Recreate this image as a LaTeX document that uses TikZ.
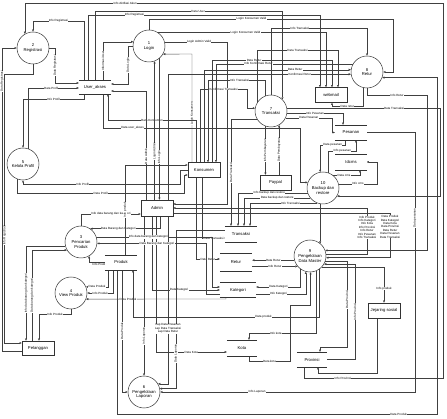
\documentclass[tikz,border=0pt]{standalone}
\usepackage{fontspec}
\setmainfont{Liberation Sans}
\usetikzlibrary{arrows.meta}
\pgfdeclarelayer{edges}
\pgfsetlayers{edges,main}
\begin{document}
\begin{tikzpicture}[x=1pt,y=-1pt,
  font=\fontsize{4.2}{4.6}\selectfont,
  proc/.style={circle,draw=black!80,line width=0.5pt,minimum size=32pt,inner sep=0pt,align=center,fill=white},
  ent/.style={rectangle,draw=black!80,line width=0.5pt,minimum width=32pt,minimum height=15pt,inner sep=0pt,fill=white},
  store/.style={rectangle,minimum width=32pt,minimum height=15pt,inner sep=0pt,fill=white},
  fl/.style={draw=black!75,line width=0.4pt,-{Triangle[length=2.2pt,width=2pt]}},
  ln/.style={draw=black!80,line width=0.5pt},
  lbl/.style={font=\fontsize{3}{3.4}\selectfont,fill=white,inner sep=0.3pt,align=center},
  lblv/.style={lbl,rotate=90},
]
\useasboundingbox (0,0) rectangle (447,419);

% processes
\node[proc] (p2) at (33,48) {2\\Registrasi};
\node[proc] (p1) at (149,46) {1\\Login};
\node[proc] (p8) at (367,72) {8\\Retur};
\node[proc] (p7) at (271,111) {7\\Transaksi};
\node[proc] (p5) at (23,164) {5\\Kelola Profil};
\node[proc] (p10) at (323,188) {10\\Backup dan\\restore};
\node[proc] (p3) at (81,242) {3\\Pencarian\\Produk};
\node[proc] (p9) at (310,256) {9\\Pengelolaan\\Data Master};
\node[proc] (p4) at (71,293) {4\\View Produk};
\node[proc] (p6) at (144,392) {6\\Pengelolaan\\Laporan};

% external entities
\node[ent] (webmail) at (331,95) {webmail};
\node[ent] (konsumen) at (204,170) {Konsumen};
\node[ent,minimum width=31pt] (paypal) at (275.5,182.5) {Paypal};
\node[ent,minimum height=16pt] (admin) at (157,208) {Admin};
\node[ent,minimum height=14pt] (pelanggan) at (38,348) {Pelanggan};
\node[ent] (jejaring) at (384,310.5) {Jejaring sosial};

% data stores
\node[store,minimum height=14pt] (ua) at (95,87) {User\_akses};
\node[store] (pesanan) at (351,132.5) {Pesanan};
\node[store,minimum width=31pt,minimum height=16pt] (idcms) at (351,162) {Idcms};
\node[store,minimum height=16pt] (strans) at (241,234) {Transaksi};
\node[store,minimum height=18pt] (sretur) at (236,262) {Retur};
\node[store,minimum width=36pt] (skat) at (238,290) {Kategori};
\node[store,minimum width=30pt,minimum height=16pt] (skota) at (242,348) {Kota};
\node[store,minimum width=30pt] (sprov) at (312,359.5) {Provinsi};
\node[store] (sprod) at (121,262.5) {Produk};
\foreach \s in {ua,pesanan,idcms,strans,sretur,skat,skota,sprov,sprod}
  \draw[ln] (\s.north west) -- (\s.north east) (\s.south west) -- (\s.south east);

\begin{pgfonlayer}{edges}
% Registrasi
\draw[fl] (sprov.south -| 304,0) -- (304,378) -- (443,378) node[lbl,pos=0.28]{Info Provinsi}
  -- (443,3) -- (p2.120 |- 0,3) node[lbl,pos=0.76]{Info Aktifasi Akun} -- (p2.120);
\draw[fl] (ua.north -| 84,0) -- (84,21) -- (p2.north |- 0,21) node[lbl,pos=0.5]{Info Registrasi} -- (p2.north);
\draw[fl] (p2.east) -- (55,48) -- (55,83) node[lblv,pos=0.5]{Data Registrasi} -- (ua.west |- 0,83);
\draw[fl] (pelanggan.west |- 0,351) -- (2,351) -- (2,48) node[lblv,pos=0.89]{Data Registrasi} -- (p2.west);
\draw[fl] (p2.south) -- (33,74) -- (4.5,74) -- (4.5,343) node[lblv,pos=0.6]{Info Registrasi} -- (pelanggan.west |- 0,343);
\draw[fl] (p5.70) -- (p5.70 |- 0,88) -- (ua.west |- 0,88) node[lbl,pos=0.45]{Data Profil};
\draw[fl] (ua.south -| 84,0) -- (84,99) -- (p5.north |- 0,99) node[lbl,pos=0.5]{Info Profil} -- (p5.north);
\draw[fl] (konsumen.west |- 0,170) -- (180,170) -- (180,184) -- (p5.south |- 0,184) node[lbl,pos=0.62]{Info Profil} -- (p5.south);
\draw[fl] (p5.250) -- (p5.250 |- 0,193) -- (184,193) node[lbl,pos=0.5]{Data Profil} -- (184,175) -- (konsumen.west |- 0,175);

% Login
\draw[fl] (p1.north) -- (149,19) -- (393,19) node[lbl,pos=0.42]{Login Konsumen Valid} -- (393,72) -- (p8.east);
\draw[fl] (p1.55) -- (p1.55 -| 326,0) node[lbl,pos=0.52]{Login Konsumen Valid} -- (webmail.north -| 326,0);
\draw[fl] (p1.14) -- (p1.14 -| 227,0) node[lbl,pos=0.55]{Login Admin Valid} -- (227,204) -- (admin.east |- 0,204);
\draw[fl] (ua.north -| 103,0) -- (p1.165 -| 103,0) node[lblv,pos=0.5]{Informasi User} -- (p1.165);
\draw[fl] (p1.west) -- (128,46) -- (128,84) node[lblv,pos=0.5]{Data Login} -- (ua.east |- 0,84);
\draw[fl] (ua.north) -- (95,11) -- (p7.north east |- 0,11) node[lbl,pos=0.55]{Data User} -- (p7.north east);
\draw[fl] (ua.north -| 88,0) -- (88,15) -- (320,15) node[lbl,pos=0.2]{Info Registrasi} -- (webmail.north -| 320,0);

% Konsumen
\draw[fl] (konsumen.north -| 192,0) -- (192,54) node[lblv,pos=0.45]{Login Konsumen} -- (p1.-30);
\draw[fl] (konsumen.north -| 196,0) -- (196,120) -- (108,120) node[lbl,pos=0.5]{Data Konsumen} -- (ua.south -| 108,0);
\draw[fl] (konsumen.north -| 200,0) -- (200,89) -- (247,89) node[lbl,pos=0.5]{Konfirmasi Transaksi} -- (p7.170 -| 247,0) -- (p7.170);
\draw[fl] (konsumen.north -| 204,0) -- (p8.172 -| 204,0) -- (p8.172) node[lbl,pos=0.62]{Data Retur};
\draw[fl] (p7.110) -- (p7.110 |- 0,80) -- (208,80) node[lbl,pos=0.45]{Info Transaksi} -- (konsumen.north -| 208,0);
\draw[fl] (konsumen.north -| 212,0) -- (212,60) -- (332,60) node[lbl,pos=0.35]{Data Retur} -- (webmail.north -| 332,0);
\draw[fl] (p8.150) -- (p8.150 -| 216,0) node[lbl,pos=0.69]{Info Konfirmasi Retur} -- (konsumen.north -| 216,0);
\draw[fl] (konsumen.south -| 196,0) -- (196,259) -- (sretur.west |- 0,259) node[lbl,pos=0.5]{Data Retur};
\draw[fl] (konsumen.south -| 202,0) -- (202,238) -- (strans.west |- 0,238) node[lbl,pos=0.5]{Data Transaksi};

% Admin
\draw[fl] (admin.north -| 146,0) -- (146,91) node[lblv,pos=0.4]{Data Admin} -- (ua.east |- 0,91);
\draw[fl] (admin.north -| p1.-70) -- (p1.-70) node[lblv,pos=0.35]{Login Admin};
\draw[fl] (p1.-50) -- (p1.-50 |- admin.north) node[lblv,pos=0.7]{Info Login};
\draw[fl] (admin.north -| 168,0) -- (p8.-172 -| 168,0) -- (p8.-172) node[lbl,pos=0.72]{Konfirmasi Retur};
\draw[fl] (admin.south -| 160,0) -- (p3.55 -| 160,0) -- (p3.55) node[lbl,pos=0.6]{Data Barang dan Kategori};
\draw[fl] (p3.north) -- (81,214) -- (admin.west |- 0,214) node[lbl,pos=0.5]{Info data barang dan kategori};
\draw[fl] (admin.south -| 152,0) -- (152,290) -- (skat.west |- 0,290) node[lbl,pos=0.4]{Data Kategori};
\draw[fl] (admin.south -| 156,0) -- (156,352) -- (skota.west |- 0,352) node[lbl,pos=0.5]{Data Kota};
\draw[fl] (admin.south -| 144,0) -- (p6.north) node[lblv,pos=0.75]{Info Laporan};
\draw[fl] (strans.west |- 0,230) -- (176,230) -- (p6.12 -| 176,0) node[lblv,pos=0.78]{Data Laporan} -- (p6.12);
\draw[fl] (admin.south -| 168,0) -- (p6.30 -| 168,0) node[lbl,pos=0.67]{Lap Data Pesanan\\Lap Data Transaksi\\Lap Data Retur} -- (p6.30);

% Pencarian Produk
\draw[fl] (p3.18) -- (p3.18 -| 212,0) node[lbl,pos=0.45]{Info data barang dan kategori} -- (212,287) -- (skat.west |- 0,287);
\draw[fl] (skat.west |- 0,294) -- (206,294) -- (p3.-5 -| 206,0) -- (p3.-5) node[lbl,pos=0.45]{Data Barang dan Kategori};
\draw[fl] (p3.194) -- (p3.194 -| 26,0) -- (pelanggan.north -| 26,0) node[lblv,pos=0.5]{Info data barang dan kategori};
\draw[fl] (pelanggan.north -| 32,0) -- (p3.210 -| 32,0) node[lblv,pos=0.5]{Data barang dan kategori} -- (p3.210);
\draw[fl] (sprod.west) -- (p3.-60 |- sprod.west) node[lbl,pos=0.3,below=0.4pt]{Info Produk} -- (p3.-60);

% View Produk
\draw[fl] (sprod.south -| 108,0) -- (p4.22 -| 108,0) -- (p4.22) node[lbl,pos=0.5]{Data Produk};
\draw[fl] (sprod.south -| 113,0) -- (p4.east -| 113,0) -- (p4.east) node[lbl,pos=0.5]{Info Produk};
\draw[fl] (skat.south -| 226,0) -- (226,299) -- (p4.-22) node[lbl,pos=0.7]{Data Produk};
\draw[fl] (p4.south) -- (71,314) -- (39,314) node[lbl,pos=0.5]{Info Produk} -- (pelanggan.north -| 39,0);

% Produk
\draw[fl] (sprod.south -| 117,0) -- (117,414) -- (437,414) node[lbl,pos=0.88]{Data Produk} -- (p8.-20 -| 437,0) -- (p8.-20);
\draw[fl] (sprod.south -| 122,0) -- (p6.west -| 122,0) node[lblv,pos=0.5]{Data Produk} -- (p6.west);
\draw[fl] (sprod.north -| 125,0) -- (125,165) node[lblv,pos=0.5]{Info produk} -- (konsumen.west |- 0,165);
\draw[fl] (p9.-55) -- (p9.-55 |- 0,317) -- (133,317) node[lbl,pos=0.3]{Data produk} -- (sprod.south -| 133,0);

% Transaksi
\draw[fl] (p7.north) -- (271,28) -- (367,28) node[lbl,pos=0.3]{Info Transaksi} -- (p8.north);
\draw[fl] (p7.150) -- (p7.150 |- 0,50) -- (338,50) node[lbl,pos=0.5]{Data Transaksi} -- (webmail.north -| 338,0);
\draw[fl] (p7.-7) -- (p7.-7 -| 343,0) node[lbl,pos=0.5]{Info Pesanan} -- (pesanan.north -| 343,0);
\draw[fl] (p7.-25) -- (p7.-25 -| 332,0) node[lbl,pos=0.5]{Data Pesanan} -- (332,132.5) -- (pesanan.west);
\draw[fl] (p7.10) -- (p7.10 -| 440,0) node[lbl,pos=0.7]{Data Transaksi} -- (p10.-30 -| 440,0) -- (p10.-30);
\draw[fl] (p7.-150) -- (p7.-150 -| 231,0) -- (strans.north -| 231,0) node[lblv,pos=0.5]{Data Transaksi};
\draw[fl] (p7.-110) -- (paypal.north -| p7.-110) node[lblv,pos=0.5]{Info Pembayaran};
\draw[fl] (paypal.north -| p7.-60) -- (p7.-60) node[lblv,pos=0.5]{Data Pembayaran};

% Retur
\draw[fl] (p8.south) -- (367,95) -- (427,95) node[lbl,pos=0.5]{Info Retur} -- (p9.20 -| 427,0) -- (p9.20);
\draw[fl] (p8.-105) -- (p8.-105 |- 0,106) -- (332,106) node[lbl,pos=0.5]{Data retur} -- (webmail.south -| 332,0);

% Backup dan restore
\draw[fl] (ua.south -| 103,0) -- (103,128) -- (300,128) node[lbl,pos=0.15]{Data user\_akses} -- (p10.160 -| 300,0) -- (p10.160);
\draw[fl] (p10.-162) -- (p10.-162 -| 238,0) node[lbl,pos=0.55]{Info backup dan restore} -- (strans.north -| 238,0);
\draw[fl] (p10.-141) -- (p10.-141 -| 244,0) node[lbl,pos=0.5]{Data backup dan restore} -- (strans.north -| 244,0);
\draw[fl] (p10.-110) -- (p10.-110 -| 250,0) node[lbl,pos=0.4]{Info Transaksi} -- (strans.north -| 250,0);
\draw[fl] (pesanan.south -| 345,0) -- (345,145) -- (p10.100 |- 0,145) node[lbl,pos=0.5]{Data pesanan} -- (p10.100);
\draw[fl] (p10.70) -- (p10.70 |- 0,151) -- (356,151) node[lbl,pos=0.5]{Info pesanan} -- (pesanan.south -| 356,0);
\draw[fl] (p10.50) -- (p10.50 -| 360,0) node[lbl,pos=0.4]{Data cms} -- (idcms.south -| 360,0);
\draw[fl] (p10.15) -- (p10.15 -| 377,0) node[lbl,pos=0.5]{Info cms} -- (377,162) -- (idcms.east);
\draw[fl] (p10.-100) -- (p10.-100 |- p9.50);

% Pengelolaan Data Master
\draw[fl] (p9.8) -- (p9.8 -| 367,0) -- (367,208)
  node[lbl,pos=0.58]{Info Produk\\Info Kategori\\Info Kota\\Info Provinsi\\Info Retur\\Info Pesanan\\Info Transaksi}
  -- (admin.east |- 0,208);
\draw[fl] (admin.east |- 0,213) -- (390,213) -- (p9.-6 -| 390,0)
  node[lbl,pos=0.31]{Data Produk\\Data Kategori\\Data Kota\\Data Provinsi\\Data Retur\\Data Pesanan\\Data Transaksi}
  -- (p9.-6);
\draw[fl] (p9.-18) -- (p9.-18 -| 347,0) -- (347,347) node[lblv,pos=0.45]{Data Provinsi} -- (320,347) -- (sprov.north -| 320,0);
\draw[fl] (sprov.east) -- (355,359.5) -- (p9.-30 -| 355,0) node[lblv,pos=0.5]{Info Provinsi} -- (p9.-30);
\draw[fl] (p9.-42) -- (p9.-42 -| 384,0) -- (jejaring.north) node[lbl,pos=0.6]{Info produk};
\draw[fl] (jejaring.south -| 377,0) -- (377,373) -- (318,373) -- (sprov.south -| 318,0);
\draw[fl] (p9.-68) -- (p9.-68 |- 0,333) -- (249,333) node[lbl,pos=0.6]{Info kota} -- (skota.north -| 249,0);
\draw[fl] (skota.south -| 249,0) -- (249,361) -- (290,361) node[lbl,pos=0.5]{Data kota} -- (290,305) -- (p9.-88 |- 0,305) -- (p9.-88);
\draw[fl] (p9.-125) -- (p9.-125 |- 0,287) -- (skat.east |- 0,287) node[lbl,pos=0.5]{Data Kategori};
\draw[fl] (skat.east |- 0,294) -- (p9.-105 |- 0,294) node[lbl,pos=0.45]{Info Kategori} -- (p9.-105);
\draw[fl] (p9.-165) -- (sretur.east |- p9.-165) node[lbl,pos=0.5]{Data Retur};
\draw[fl] (sretur.east |- p9.-140) -- (p9.-140) node[lbl,pos=0.5]{Info Retur};

% Pengelolaan Laporan
\draw[fl] (pesanan.east) -- (415,132.5) -- (415,392) node[lblv,pos=0.33]{Data pesanan}
  -- (p6.east) node[lbl,pos=0.62]{Info Laporan};
\end{pgfonlayer}
\end{tikzpicture}
\end{document}
